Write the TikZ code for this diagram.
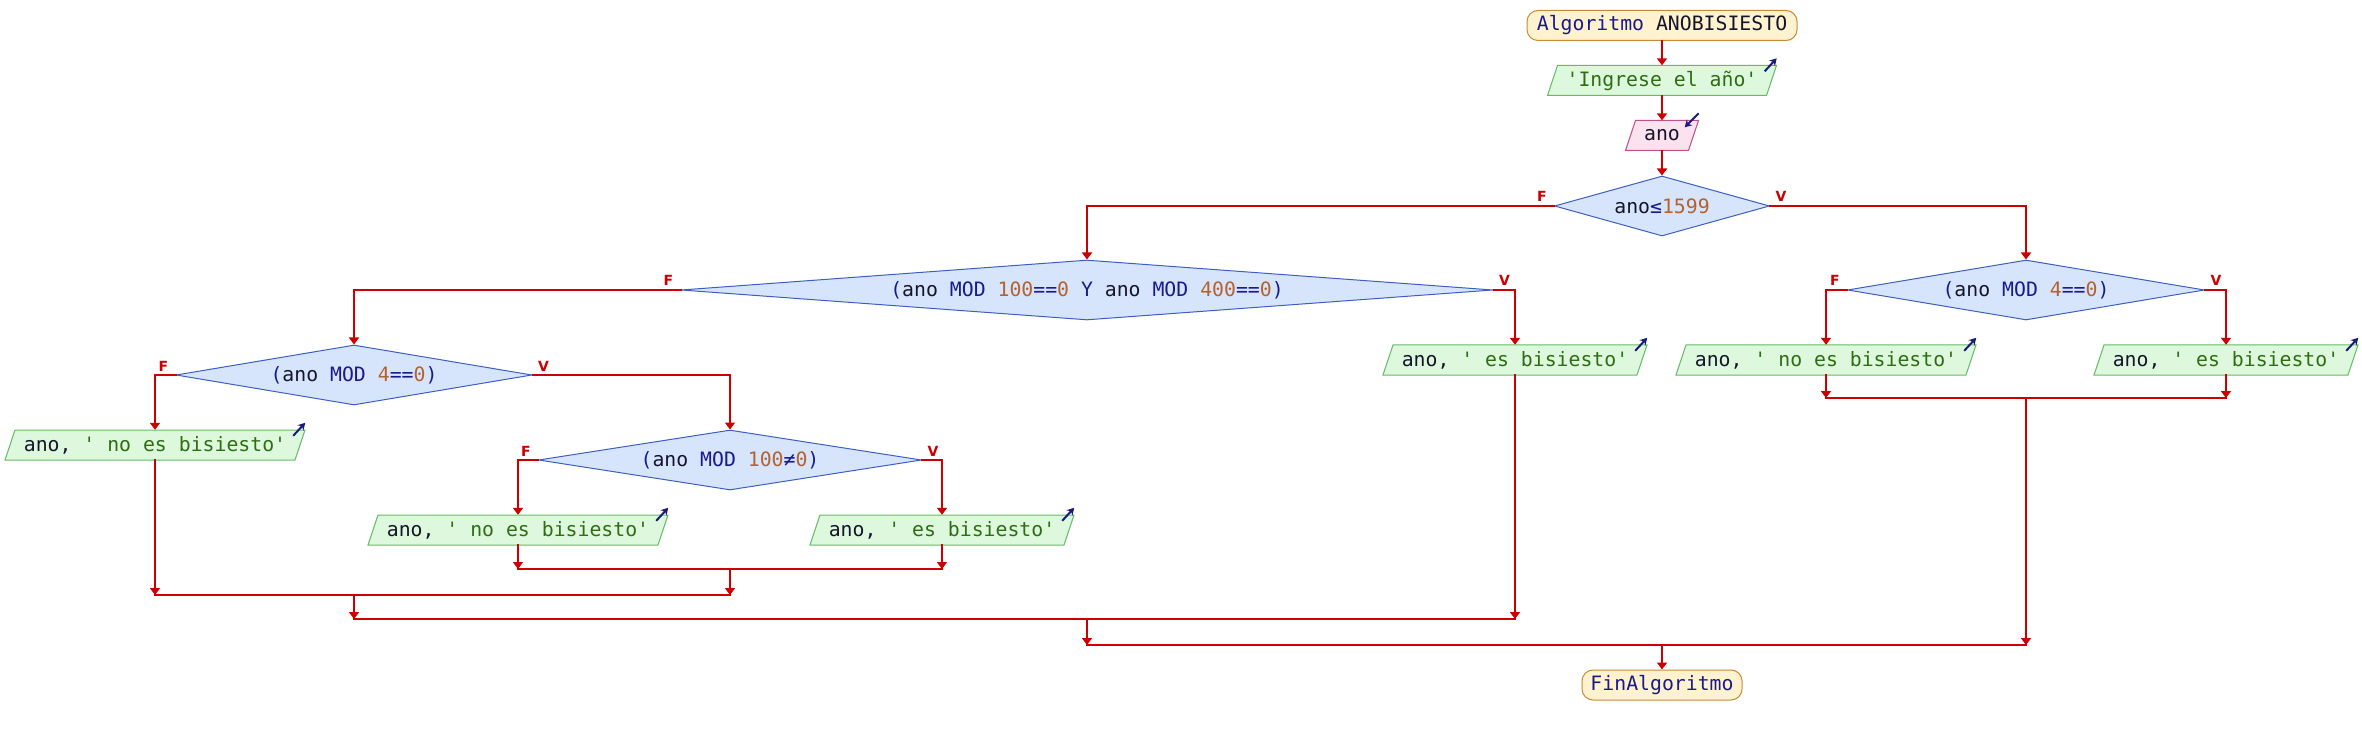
\documentclass[tikz,border=0pt]{standalone}
\usepackage{fontspec}
\newfontfamily\monof{DejaVu Sans Mono}
\newfontfamily\lblf{DejaVu Sans}
\usetikzlibrary{arrows.meta,shapes.geometric,calc}
\definecolor{flowc}{HTML}{CC0000}
\definecolor{kwc}{HTML}{1A1A8C}
\definecolor{numc}{HTML}{B5622E}
\definecolor{strc}{HTML}{2E6E12}
\definecolor{idc}{HTML}{15152A}
\definecolor{dfill}{HTML}{D6E4FC}
\definecolor{ddraw}{HTML}{3D5FC4}
\definecolor{ofill}{HTML}{DEF8DE}
\definecolor{odraw}{HTML}{66BB66}
\definecolor{ifill}{HTML}{FCE1EE}
\definecolor{idraw}{HTML}{C0508A}
\definecolor{tfill}{HTML}{FFF2CE}
\definecolor{tdraw}{HTML}{C88A35}
\definecolor{iconc}{HTML}{1A1A7A}
\newcommand\kw[1]{\textcolor{kwc}{#1}}
\newcommand\nm[1]{\textcolor{numc}{#1}}
\newcommand\st[1]{\textcolor{strc}{#1}}
\newcommand\pgram[6]{%
  \path[#5] (#2-#4,#3+15) -- (#2+#4-10,#3+15) -- (#2+#4,#3-15) -- (#2-#4+10,#3-15) -- cycle;
  \node[iotext, minimum width={2*#4-10}] (#1) at (#2,#3) {#6};
}
\begin{document}
\begin{tikzpicture}[x=1pt,y=-1pt,
  font=\monof\fontsize{19.8}{22}\selectfont, text=idc,
  flow/.style={draw=flowc, line width=2pt, line cap=rect},
  arr/.style={flow, -{Triangle[width=10pt,length=7pt]}},
  term/.style={draw=tdraw, fill=tfill, line width=1pt, rounded corners=11pt, minimum height=30pt, inner sep=0pt},
  dec/.style={diamond, draw=ddraw, fill=dfill, line width=1pt, inner sep=0pt},
  iotext/.style={inner sep=0pt, minimum height=30pt},
  outshape/.style={draw=odraw, fill=ofill, line width=1pt},
  inshape/.style={draw=idraw, fill=ifill, line width=1pt},
  icon/.style={draw=iconc, line width=2pt, -{Stealth[width=8pt,length=7pt]}},
  lbl/.style={text=flowc, font=\lblf\bfseries\fontsize{14}{14}\selectfont, inner sep=0pt, anchor=base}]
\useasboundingbox[fill=white] (0,0) rectangle (2362,735);

% nodes
\node[term, minimum width=270pt] (start) at (1662,25.5) {\kw{Algoritmo} ANOBISIESTO};
\pgram{in1}{1662}{80.5}{114.5}{outshape}{\st{'Ingrese el año'}}
\pgram{rd}{1662}{135.5}{36.5}{inshape}{ano}
\node[dec, minimum width=215pt, minimum height=60pt, aspect=3.58] (d1) at (1662,206) {ano\kw{≤}\nm{1599}};
\node[dec, minimum width=812pt, minimum height=60pt, aspect=13.5] (d2) at (1087,290) {\kw{(}ano \kw{MOD} \nm{100}\kw{==}\nm{0} \kw{Y} ano \kw{MOD} \nm{400}\kw{==}\nm{0}\kw{)}};
\node[dec, minimum width=357pt, minimum height=60pt, aspect=6] (d3) at (2026,290) {\kw{(}ano \kw{MOD} \nm{4}\kw{==}\nm{0}\kw{)}};
\node[dec, minimum width=356pt, minimum height=60pt, aspect=6] (d4) at (354,375) {\kw{(}ano \kw{MOD} \nm{4}\kw{==}\nm{0}\kw{)}};
\node[dec, minimum width=383pt, minimum height=60pt, aspect=6.4] (d5) at (730,460) {\kw{(}ano \kw{MOD} \nm{100}\kw{≠}\nm{0}\kw{)}};
\pgram{o2v}{1515}{360}{132}{outshape}{ano, \st{' es bisiesto'}}
\pgram{o3f}{1826}{360}{150}{outshape}{ano, \st{' no es bisiesto'}}
\pgram{o3v}{2226}{360}{132}{outshape}{ano, \st{' es bisiesto'}}
\pgram{o4f}{155}{445}{150}{outshape}{ano, \st{' no es bisiesto'}}
\pgram{o5f}{518}{530}{150}{outshape}{ano, \st{' no es bisiesto'}}
\pgram{o5v}{942}{530}{132}{outshape}{ano, \st{' es bisiesto'}}
\node[term, minimum width=160pt] (fin) at (1662,685) {\kw{FinAlgoritmo}};

% join points
\coordinate (j5) at (730,569);
\coordinate (j4) at (354,595);
\coordinate (j2) at (1087,619);
\coordinate (j3) at (2026,398);
\coordinate (j1) at (1662,645);

% connectors
\draw[arr] (start.south) -- (in1.north);
\draw[arr] (in1.south) -- (rd.north);
\draw[arr] (rd.south) -- (d1.north);
\draw[arr] (d1.west) -| (d2.north);
\draw[arr] (d1.east) -| (d3.north);
\draw[arr] (d2.west) -| (d4.north);
\draw[arr] (d2.east) -| (o2v.north);
\draw[arr] (d3.west) -| (o3f.north);
\draw[arr] (d3.east) -| (o3v.north);
\draw[arr] (d4.west) -| (o4f.north);
\draw[arr] (d4.east) -| (d5.north);
\draw[arr] (d5.west) -| (o5f.north);
\draw[arr] (d5.east) -| (o5v.north);

\draw[arr] (o5f.south) -- (o5f.south |- j5);
\draw[arr] (o5v.south) -- (o5v.south |- j5);
\draw[flow] (o5f.south |- j5) -- (o5v.south |- j5);
\draw[arr] (j5) -- (j5 |- j4);

\draw[arr] (o4f.south) -- (o4f.south |- j4);
\draw[flow] (o4f.south |- j4) -- (j5 |- j4);
\draw[arr] (j4) -- (j4 |- j2);

\draw[arr] (o2v.south) -- (o2v.south |- j2);
\draw[flow] (j4 |- j2) -- (o2v.south |- j2);
\draw[arr] (j2) -- (j2 |- j1);

\draw[arr] (o3f.south) -- (o3f.south |- j3);
\draw[arr] (o3v.south) -- (o3v.south |- j3);
\draw[flow] (o3f.south |- j3) -- (o3v.south |- j3);
\draw[arr] (j3) -- (j3 |- j1);

\draw[flow] (j2 |- j1) -- (j3 |- j1);
\draw[arr] (j1) -- (fin.north);

% branch labels
\foreach \d in {d1,d2,d3,d4,d5}{
  \node[lbl] at ($(\d.west)+(-12,-4)$) {F};
  \node[lbl] at ($(\d.east)+(11,-4)$) {V};
}

% io icons
\foreach \o in {in1,o2v,o3f,o3v,o4f,o5f,o5v}{
  \draw[icon] ($(\o.north east)+(-7,6)$) -- ($(\o.north east)+(5,-7)$);
}
\draw[icon] ($(rd.north east)+(5,-7)$) -- ($(rd.north east)+(-9,7)$);
\end{tikzpicture}
\end{document}
